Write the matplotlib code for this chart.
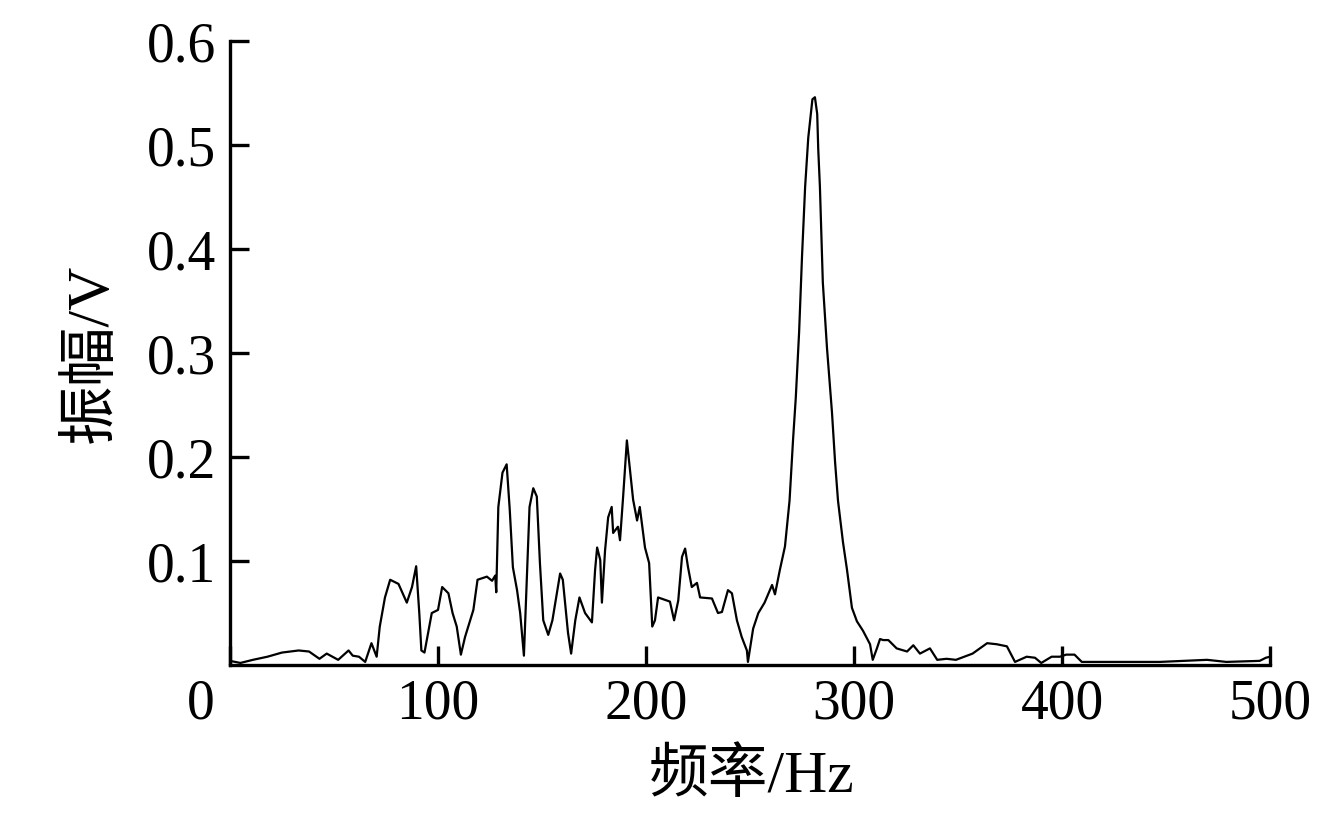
import matplotlib
matplotlib.use('Agg')
import matplotlib.pyplot as plt

plt.rcParams['font.family'] = ['Liberation Serif', 'Noto Sans CJK SC']

# spectrum: frequency (Hz) and amplitude (V)
freq = [0, 5, 11, 18, 25, 33, 38, 43, 46.5, 52, 57, 59, 62, 65, 68, 70.5, 72, 74.5, 77, 81,
        85, 87.5, 89.5, 91, 92, 93.5, 97, 100, 102, 105, 107, 109, 111, 113, 117, 119, 123.5, 126, 127.5, 128,
        129, 131, 133, 134.5, 136, 138, 139.5, 141.3, 142.8, 144, 145.8, 147.5, 149, 150.6, 153, 155, 158.7, 160, 162.5, 164,
        166, 168, 170.7, 174, 175.5, 176.5, 178, 178.8, 180.3, 181.8, 183.5, 184.2, 186.5, 187.5, 189, 190.8, 192.3, 193.8, 195.7, 197,
        199.5, 201.5, 203, 204.3, 205.8, 210, 211.5, 213.5, 215.5, 217.3, 218.8, 220.2, 222, 224.5, 226, 231.7, 234.6, 236.5,
        239.4, 241.3, 243.7, 246, 248.5, 249, 251.5, 254, 257, 260.6, 262, 264.4, 266.8, 269, 270.7, 272, 273.6, 275,
        276.5, 278, 280, 281.2, 282.3, 282.8, 283.6, 285, 287, 289.4, 290.9, 292.3, 294.7, 296.6, 299, 301.4, 304.3, 307.7,
        309, 311, 312.5, 314, 316.5, 318, 320.5, 325.5, 328.5, 331.7, 336.5, 340, 344.5, 349, 357, 364, 368.6, 373.5,
        377.4, 383, 387, 390, 395, 399, 402, 406, 409.5, 415, 431, 447, 469.7, 479, 495, 498, 500]
amp = [0.004, 0.002, 0.005, 0.008, 0.012, 0.014, 0.013, 0.006, 0.011, 0.005, 0.014, 0.009, 0.008, 0.003, 0.021, 0.008, 0.037, 0.065, 0.082, 0.078,
       0.06, 0.075, 0.095, 0.05, 0.014, 0.012, 0.05, 0.053, 0.075, 0.069, 0.05, 0.037, 0.01, 0.027, 0.053, 0.082, 0.085, 0.081, 0.086, 0.07,
       0.152, 0.185, 0.193, 0.149, 0.094, 0.072, 0.05, 0.009, 0.088, 0.152, 0.17, 0.162, 0.098, 0.043, 0.029, 0.043, 0.088, 0.082, 0.031, 0.011,
       0.043, 0.065, 0.05, 0.041, 0.091, 0.113, 0.101, 0.06, 0.11, 0.142, 0.152, 0.127, 0.133, 0.12, 0.162, 0.216, 0.187, 0.159, 0.139, 0.152,
       0.113, 0.098, 0.037, 0.043, 0.065, 0.062, 0.061, 0.043, 0.062, 0.104, 0.112, 0.094, 0.075, 0.079, 0.065, 0.064, 0.05, 0.051,
       0.072, 0.069, 0.043, 0.027, 0.014, 0.003, 0.035, 0.05, 0.06, 0.077, 0.068, 0.092, 0.114, 0.158, 0.217, 0.257, 0.32, 0.393,
       0.46, 0.507, 0.544, 0.546, 0.53, 0.496, 0.46, 0.368, 0.305, 0.243, 0.195, 0.158, 0.118, 0.092, 0.055, 0.042, 0.033, 0.02,
       0.005, 0.016, 0.025, 0.024, 0.024, 0.021, 0.016, 0.013, 0.019, 0.011, 0.016, 0.005, 0.006, 0.005, 0.011, 0.021, 0.02, 0.018,
       0.003, 0.008, 0.007, 0.002, 0.008, 0.008, 0.01, 0.01, 0.003, 0.003, 0.003, 0.003, 0.005, 0.003, 0.004, 0.007, 0.008]

xticks = [0, 100, 200, 300, 400, 500]
yticks = [0.1, 0.2, 0.3, 0.4, 0.5, 0.6]

fig = plt.figure(figsize=(13.38, 8.18), dpi=100)
ax = fig.add_axes([0.1719, 0.1870, 0.7773, 0.7628])

ax.plot(freq, amp, color='black', lw=1.6)

ax.set_xlim(0, 500)
ax.set_ylim(0, 0.6)

# only left and bottom axes, ticks pointing inward
ax.spines['top'].set_visible(False)
ax.spines['right'].set_visible(False)
ax.spines['left'].set_linewidth(2.4)
ax.spines['bottom'].set_linewidth(2.4)

ax.set_xticks(xticks)
ax.set_xticklabels([''] + [str(t) for t in xticks[1:]])
ax.set_yticks(yticks)
ax.set_yticklabels([str(t) for t in yticks])
ax.tick_params(direction='in', length=14, width=2.4, labelsize=40, pad=10)

# the origin label sits a little left of the axis corner
ax.annotate('0', xy=(0, 0), xycoords=('data', 'axes fraction'),
            xytext=(-21, -10), textcoords='offset points',
            ha='center', va='top', fontsize=40)

ax.set_xlabel('频率/Hz', fontsize=43)
ax.set_ylabel('振幅/V', fontsize=43)
ax.xaxis.set_label_coords(0.502, -0.135)
ax.yaxis.set_label_coords(-0.106, 0.5)

fig.savefig('out.png', dpi=100)
